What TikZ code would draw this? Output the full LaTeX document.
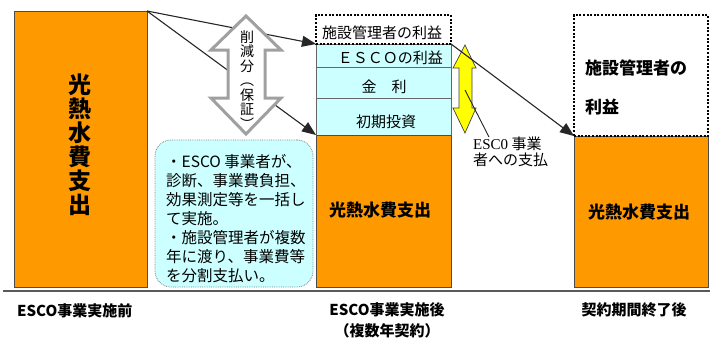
\documentclass[tikz,border=0pt]{standalone}
\usepackage{fontspec}
\setmainfont{Noto Sans CJK JP}
\newfontfamily\serifen{Liberation Serif}
\usetikzlibrary{arrows.meta}
\definecolor{orng}{HTML}{FF9900}
\definecolor{lcyan}{HTML}{CCFFFF}
\definecolor{grayarr}{HTML}{A0A0A0}
\definecolor{yel}{HTML}{FFFF00}
\begin{document}
\begin{tikzpicture}[x=1pt,y=-1pt,
  box/.style={inner sep=0pt, outer sep=0pt, anchor=center},
  obox/.style={box, fill=orng, draw=black!70, line width=0.9pt},
  cbox/.style={box, fill=lcyan, draw=black!60, line width=0.8pt},
  dbox/.style={box, draw=black, line width=2pt, dash pattern=on 2pt off 1.6pt},
  lbl/.style={inner sep=0pt, font=\fontsize{15}{15}\selectfont},
  blbl/.style={inner sep=0pt, font=\bfseries\fontsize{15}{15}\selectfont},
  bigl/.style={inner sep=0pt, font=\bfseries\fontsize{17}{17}\selectfont},
  conn/.style={draw=black!85, line width=1.1pt, -{Triangle[length=14pt,width=11pt]}},
  thin/.style={draw=black!85, line width=0.9pt},
]
\useasboundingbox (0,0) rectangle (710,341);
\fill[white] (0,0) rectangle (710,341);

% before
\node[obox, minimum width=133pt, minimum height=276pt] (pre) at (80.5,149) {};
\node[inner sep=0pt, align=center, font=\bfseries\fontsize{23}{24}\selectfont] (pretxt) at (80,145) {光\\熱\\水\\費\\支\\出};

% after
\node[cbox, minimum width=135pt, minimum height=23pt] (esco) at (383.5,55.5) {};
\node[cbox, minimum width=135pt, minimum height=31pt] (kinri) at (383.5,82.5) {};
\node[cbox, minimum width=135pt, minimum height=37pt] (shoki) at (383.5,116.5) {};
\node[obox, minimum width=135pt, minimum height=152pt] (post) at (383.5,211) {};
\node[dbox, minimum width=135pt, minimum height=29pt] (mgain) at (383.5,29.5) {};
\node[lbl] (mgaintxt) at (382,33) {施設管理者の利益};
\node[lbl, anchor=east] (escotxt) at (443,58) {ＥＳＣＯの利益};
\node[lbl] (kinritxt) at (384,87) {金　利};
\node[lbl] (shokitxt) at (386,122) {初期投資};
\node[bigl] (posttxt) at (380,210) {光熱水費支出};

% end of contract
\node[obox, minimum width=134pt, minimum height=151pt] (fin) at (641,211.5) {};
\node[dbox, minimum width=134pt, minimum height=121pt] (rgain) at (641,75.5) {};
\node[bigl, anchor=west] (rg1) at (585,68) {施設管理者の};
\node[bigl, anchor=west] (rg2) at (585,107) {利益};
\node[bigl] (fintxt) at (639,212) {光熱水費支出};

% base line
\draw[line width=1.3pt, black!65] (3,291) -- (710,291);

% bottom labels
\node[blbl, anchor=west] (lab1) at (17,311) {ESCO事業実施前};
\node[blbl] (lab2) at (387,310) {ESCO事業実施後};
\node[blbl] (lab3) at (387,331) {（複数年契約）};
\node[blbl] (lab4) at (634,310) {契約期間終了後};

% connectors from before-box
\draw[conn] (pre.north east) -- (mgain.south west);
\draw[conn] (pre.north east) -- (post.north west);

% gray double arrow
\draw[grayarr, line width=3pt, fill=white, line join=miter] (246,16) -- (281,50) -- (265,50) -- (265,98) -- (281,98) -- (246,134) -- (211,98) -- (228,98) -- (228,50) -- (211,50) -- cycle;
\node[inner sep=0pt, align=center, font=\fontsize{14}{14.5}\selectfont] (gtxt) at (247,80) {削\\減\\分\\︵\\保\\証\\︶};

% note
\node[box, fill=lcyan, draw=black!50, densely dotted, line width=0.8pt, rounded corners=16pt, minimum width=158pt, minimum height=147pt] (note) at (234,213.5) {};
\node[inner sep=0pt, align=left, anchor=west, font=\fontsize{15.5}{19}\selectfont] (notetxt) at (166,219) {・ESCO 事業者が、\\診断、事業費負担、\\効果測定等を一括し\\て実施。\\・施設管理者が複数\\年に渡り、事業費等\\を分割支払い。};

% yellow double arrow
\draw[black!75, line width=0.7pt, fill=yel] (465,45) -- (476,68) -- (472,68) -- (472,108) -- (476,108) -- (465,133) -- (453,108) -- (459,108) -- (459,68) -- (453,68) -- cycle;
\coordinate (yelmid) at (465,90);

% payment label
\node[inner sep=0pt, align=left, anchor=north west, font=\fontsize{15}{15.5}\selectfont] (pay) at (473,137) {{\serifen ESC0} 事業\\者への支払};
\draw[thin] (yelmid) -- (pay.north west -| 489,0) ;
\draw[conn] (mgain.south east) -- (rgain.south west);
\end{tikzpicture}
\end{document}
